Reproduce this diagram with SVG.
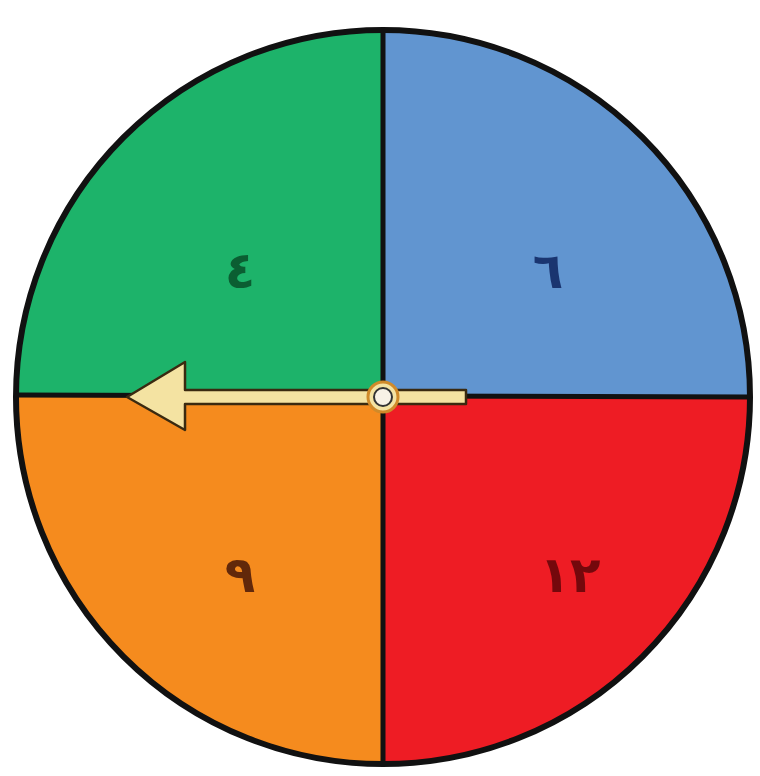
<svg xmlns="http://www.w3.org/2000/svg" width="760" height="776" viewBox="0 0 760 776">
<style>
.num{font-family:"DejaVu Sans","Noto Sans",sans-serif;font-size:50px;font-weight:bold;text-anchor:middle}
.sep{stroke:#111;stroke-width:5;fill:none}
</style>
<rect width="760" height="776" fill="#fff"/>
<g id="sector-green"><path d="M383,397 L16,397 A367,367 0 0 1 383,30 Z" fill="#1DB36A"/><text class="num" x="240" y="288" fill="#0B5E32">٤</text></g>
<g id="sector-blue"><path d="M383,397 L383,30 A367,367 0 0 1 750,397 Z" fill="#6195D0"/><text class="num" x="548" y="288" fill="#1A3570">٦</text></g>
<g id="sector-orange"><path d="M383,397 L383,764 A367,367 0 0 1 16,397 Z" fill="#F58B1E"/><text class="num" x="240" y="592" fill="#62280A">٩</text></g>
<g id="sector-red"><path d="M383,397 L750,397 A367,367 0 0 1 383,764 Z" fill="#EE1C24"/><text class="num" x="570" y="592" fill="#74080C">١٢</text></g>
<g id="connectors">
<line class="sep" x1="383" y1="30" x2="383" y2="764"/>
<line class="sep" x1="16" y1="395" x2="750" y2="397"/>
<circle cx="383" cy="397" r="367" fill="none" stroke="#111" stroke-width="6"/>
</g>
<g id="pointer">
<path d="M466,390 L185,390 L185,362 L127,397 L185,430 L185,404 L466,404 Z" fill="#F4E3A2" stroke="#3a2a10" stroke-width="2.5" stroke-linejoin="round"/>
<circle cx="383" cy="397" r="15" fill="#F4E3A2" stroke="#D08A2A" stroke-width="3"/>
<circle cx="383" cy="397" r="9" fill="#F8F2E6" stroke="#333" stroke-width="2"/>
</g>
</svg>
